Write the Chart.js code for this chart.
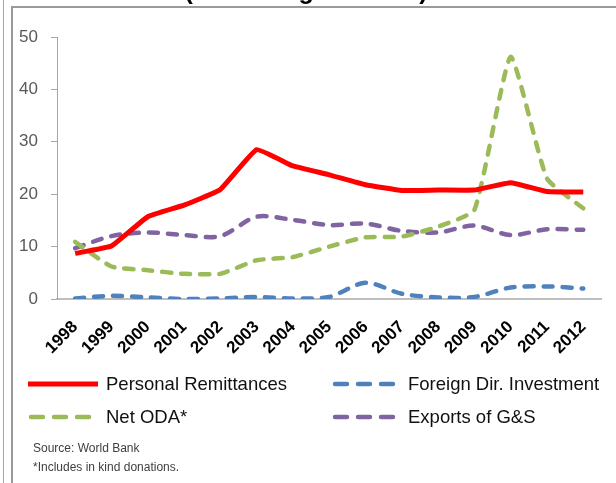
<!DOCTYPE html>
<html>
<head>
<meta charset="utf-8">
<script src="https://cdn.jsdelivr.net/npm/chart.js@4"></script>
<style>
  html, body { margin: 0; padding: 0; background: #fff; }
  #wrap { width: 616px; height: 483px; position: relative; }
</style>
</head>
<body>
<div id="wrap"><canvas id="grafico"></canvas></div>
<script>
const anios = ["1998", "1999", "2000", "2001", "2002", "2003", "2004", "2005",
               "2006", "2007", "2008", "2009", "2010", "2011", "2012"];
const remesas    = [8.7, 10.1, 15.7, 17.9, 20.9, 28.5, 25.4, 23.7, 21.8, 20.7, 20.8, 20.8, 22.2, 20.5, 20.4];
const inversion  = [0.1, 0.6, 0.3, 0.0, 0.1, 0.4, 0.1, 0.4, 3.1, 1.0, 0.3, 0.4, 2.2, 2.4, 2.0];
const odaNeta    = [10.9, 6.2, 5.5, 4.8, 4.8, 7.4, 8.0, 10.0, 11.8, 11.9, 13.8, 17.0, 46.2, 23.0, 17.3];
const exportac   = [9.7, 12.0, 12.7, 12.2, 12.0, 15.7, 15.1, 14.1, 14.4, 13.0, 12.7, 14.0, 12.2, 13.3, 13.2];
const ticksY     = [0, 10, 20, 30, 40, 50];
const titulo     = "(Percentage of GDP)";
const notas      = ["Source: World Bank", "*Includes in kind donations."];

const serie = (label, data, color, dashed, tension) => ({
  label, data,
  borderColor: color,
  backgroundColor: color,
  borderWidth: dashed ? 4.5 : 5,
  borderDash: dashed ? [9, 10] : [],
  borderCapStyle: dashed ? "round" : "butt",
  borderJoinStyle: "round",
  pointRadius: 0,
  tension,
  fill: false,
});

const datasets = [
  serie("Personal Remittances", remesas, "#FF0000", false, 0.1),
  serie("Foreign Dir. Investment", inversion, "#4F81BD", true, 0.3),
  serie("Net ODA*", odaNeta, "#9BBB59", true, 0.15),
  serie("Exports of G&S", exportac, "#8064A2", true, 0.3),
];

// marco, titulo cortado, leyenda y notas
const extras = {
  id: "extras",
  beforeDraw(chart) {
    const c = chart.ctx;
    c.save();
    c.strokeStyle = "#a6a6a6";
    c.lineWidth = 1;
    c.beginPath(); c.moveTo(3.5, 0); c.lineTo(3.5, 483); c.stroke();
    c.strokeStyle = "#9a9a9a";
    c.lineWidth = 2;
    c.beginPath(); c.moveTo(12, 483); c.lineTo(12, 7); c.lineTo(616, 7); c.stroke();
    c.fillStyle = "#000";
    c.font = "bold 25px 'Liberation Sans', Arial, sans-serif";
    c.textAlign = "center";
    c.textBaseline = "alphabetic";
    c.fillText(titulo, 306, -1);
    c.restore();
  },
  afterDraw(chart) {
    const c = chart.ctx;
    c.save();
    const cols = [{ x0: 28, x1: 98, tx: 106 }, { x0: 332, x1: 393, tx: 408 }];
    const filas = [384, 417];
    [0, 1, 2, 3].forEach((i, k) => {
      const ds = chart.data.datasets[i];
      const col = cols[k % 2];
      const y = filas[Math.floor(k / 2)];
      c.strokeStyle = ds.borderColor;
      c.lineWidth = ds.borderWidth;
      c.lineCap = ds.borderCapStyle;
      c.setLineDash(ds.borderDash.length ? [12, 11] : []);
      c.beginPath();
      c.moveTo(col.x0 + (ds.borderDash.length ? 3 : 0), y);
      c.lineTo(col.x1, y);
      c.stroke();
      c.setLineDash([]);
      c.fillStyle = "#111";
      c.font = "18.5px 'Liberation Sans', Arial, sans-serif";
      c.textAlign = "left";
      c.textBaseline = "middle";
      c.fillText(ds.label, col.tx, y + 1);
    });
    c.fillStyle = "#404040";
    c.font = "12px 'Liberation Sans', Arial, sans-serif";
    c.fillText(notas[0], 33, 449);
    c.fillText(notas[1], 33, 468);
    c.restore();
  },
};

const ctx = document.getElementById("grafico").getContext("2d");
new Chart(ctx, {
  type: "line",
  data: { labels: anios, datasets },
  plugins: [extras],
  options: {
    responsive: true,
    maintainAspectRatio: false,
    animation: false,
    layout: { padding: { left: 0, right: 9, top: 37, bottom: 0 } },
    plugins: { legend: { display: false }, tooltip: { enabled: false } },
    scales: {
      x: {
        offset: true,
        grid: { display: false, drawTicks: false },
        border: { color: "#bfbfbf", width: 2 },
        ticks: {
          minRotation: 45, maxRotation: 45, padding: 18,
          color: "#000",
          font: { family: "'Liberation Sans', Arial, sans-serif", size: 17, weight: "bold" },
        },
        afterFit: s => { s.height = 184; },
      },
      y: {
        min: 0, max: 50,
        afterBuildTicks: s => { s.ticks = ticksY.map(v => ({ value: v })); },
        grid: { drawOnChartArea: false, tickLength: 6, color: "#a6a6a6" },
        border: { color: "#a6a6a6", width: 1 },
        ticks: {
          padding: 13,
          color: "#595959",
          font: { family: "'Liberation Sans', Arial, sans-serif", size: 17 },
        },
        afterFit: s => { s.width = 57; },
      },
    },
  },
});
</script>
</body>
</html>
